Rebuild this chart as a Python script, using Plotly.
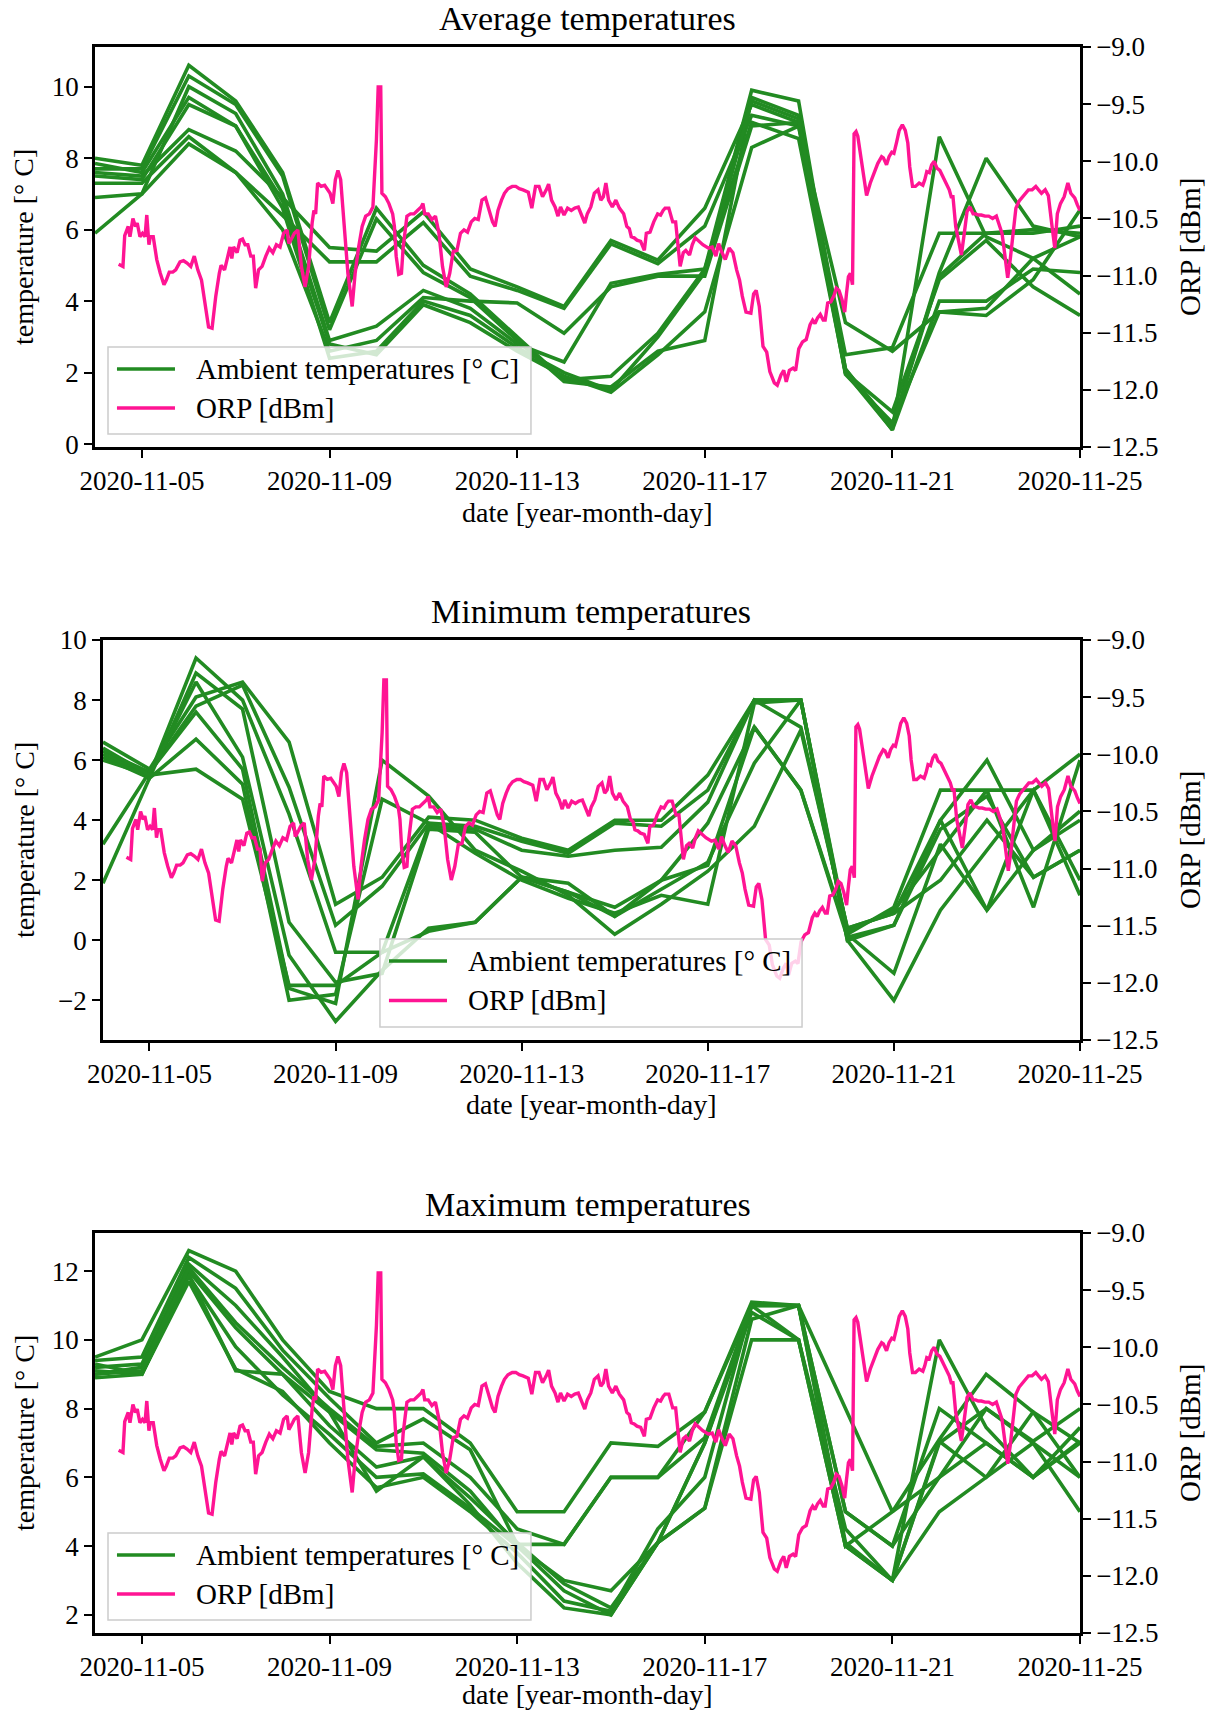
import plotly.graph_objects as go
import pandas as pd

# ---------------- data ----------------
DATES = ["2020-11-04", "2020-11-05", "2020-11-06", "2020-11-07", "2020-11-08", "2020-11-09",
         "2020-11-10", "2020-11-11", "2020-11-12", "2020-11-13", "2020-11-14", "2020-11-15",
         "2020-11-16", "2020-11-17", "2020-11-18", "2020-11-19", "2020-11-20", "2020-11-21",
         "2020-11-22", "2020-11-23", "2020-11-24", "2020-11-25"]

AVG_TEMPS = [
    [8.0, 7.8, 10.6, 9.6, 7.6, 3.4, 6.6, 5.0, 4.2, 3.0, 1.8, 1.9, 3.1, 4.9, 9.9, 9.6, 2.0, 0.4, 8.6, 5.8, 5.2, 4.2],
    [7.7, 7.7, 10.3, 9.5, 7.5, 3.2, 6.3, 4.8, 4.1, 2.9, 1.75, 1.6, 2.6, 2.9, 9.7, 9.2, 2.1, 0.5, 4.8, 8.0, 6.1, 5.8],
    [7.6, 7.5, 8.8, 8.2, 6.9, 5.5, 5.4, 6.5, 4.9, 4.4, 3.85, 5.7, 5.15, 6.6, 9.5, 9.0, 2.5, 2.7, 5.9, 5.9, 5.9, 6.1],
    [7.3, 7.3, 8.6, 7.6, 6.4, 5.1, 5.1, 6.2, 4.7, 4.3, 3.8, 5.6, 5.05, 6.1, 9.2, 8.9, 3.4, 2.6, 3.7, 3.6, 4.6, 6.55],
    [6.9, 7.0, 10.0, 9.25, 7.0, 2.9, 3.3, 4.3, 3.8, 2.8, 2.3, 4.5, 4.75, 4.9, 9.0, 8.55, 2.0, 0.9, 4.6, 5.7, 4.4, 3.6],
    [5.9, 7.0, 8.4, 7.6, 6.0, 2.6, 2.9, 4.1, 4.0, 3.95, 3.1, 4.4, 4.7, 4.7, 8.9, 9.0, 2.1, 0.4, 4.0, 4.0, 4.9, 4.8],
    [7.85, 7.6, 9.7, 8.9, 6.8, 2.8, 2.5, 3.9, 3.4, 2.6, 1.9, 1.45, 2.5, 3.7, 8.3, 8.9, 1.95, 0.6, 3.7, 3.8, 5.2, 5.8],
    [7.5, 7.4, 9.5, 8.9, 6.6, 2.4, 2.6, 4.0, 3.6, 2.7, 2.0, 1.5, 3.0, 4.8, 9.6, 9.1, 2.0, 0.5, 4.7, 5.9, 6.0, 5.9],
]

MIN_TEMPS = [
    [6.6, 5.7, 8.1, 8.6, 6.6, 1.2, 2.1, 4.1, 4.0, 3.4, 3.0, 4.0, 4.0, 5.5, 8.0, 8.0, 0.2, 1.1, 5.0, 5.0, 5.0, 6.2],
    [6.3, 5.6, 7.8, 8.5, 5.1, 0.5, 1.8, 3.9, 3.8, 3.3, 2.9, 3.9, 3.8, 5.0, 8.0, 7.1, 0.4, 0.9, 4.0, 6.0, 3.0, 4.3],
    [6.2, 5.5, 9.4, 8.0, 4.2, -0.4, -0.4, 3.8, 3.7, 3.0, 2.8, 3.0, 3.1, 4.6, 8.0, 8.0, 0.0, 0.5, 3.7, 4.8, 2.1, 3.0],
    [6.1, 5.4, 8.9, 7.7, 0.6, -1.4, -1.1, 3.7, 3.6, 2.1, 1.6, 1.1, 2.0, 3.9, 7.1, 5.0, 0.2, -1.1, 3.2, 1.0, 5.0, 2.0],
    [6.0, 5.5, 8.6, 6.1, -0.5, -2.7, -1.0, 0.4, 0.6, 2.1, 1.9, 0.8, 1.7, 2.6, 5.9, 8.0, 0.0, -2.0, 1.0, 3.0, 5.0, 1.5],
    [3.2, 5.6, 7.6, 5.7, -1.6, -2.1, 6.0, 4.8, 3.0, 2.3, 1.5, 0.2, 1.2, 2.3, 3.8, 7.0, 0.4, 0.9, 2.0, 4.0, 2.1, 3.0],
    [1.9, 5.4, 6.7, 5.2, -2.0, -1.8, 4.7, 3.9, 2.9, 2.0, 1.4, 0.9, 1.5, 1.2, 7.9, 8.0, 0.3, 1.0, 3.0, 5.0, 1.1, 6.0],
    [6.4, 5.5, 5.7, 4.7, -1.5, -1.5, -0.4, 0.3, 0.6, 2.1, 1.6, 0.8, 2.0, 2.5, 7.1, 5.0, 0.1, 0.5, 4.0, 1.0, 3.0, 4.0],
]

MAX_TEMPS = [
    [9.5, 10.0, 12.6, 12.0, 10.0, 8.5, 8.0, 8.0, 7.0, 5.0, 5.0, 7.0, 6.9, 7.9, 11.1, 11.0, 8.0, 5.0, 7.1, 9.0, 7.9, 6.0],
    [9.4, 9.5, 12.4, 11.5, 9.7, 8.3, 7.0, 7.7, 6.8, 4.05, 4.05, 6.0, 6.0, 7.15, 11.0, 11.0, 5.0, 4.0, 6.0, 8.0, 7.05, 8.0],
    [9.2, 9.3, 12.2, 11.0, 9.5, 7.9, 6.8, 6.7, 5.6, 4.0, 3.0, 2.7, 4.1, 7.0, 10.8, 10.0, 4.5, 3.0, 10.0, 7.45, 6.0, 7.45],
    [9.0, 9.2, 12.0, 10.35, 9.0, 7.5, 6.3, 6.6, 5.4, 4.1, 2.9, 2.2, 4.1, 5.1, 10.6, 11.0, 5.0, 4.0, 8.0, 7.0, 6.0, 7.05],
    [8.9, 9.0, 11.85, 9.8, 8.4, 7.25, 6.0, 6.1, 5.1, 4.0, 2.7, 2.0, 4.1, 5.1, 10.0, 10.0, 4.0, 3.0, 7.05, 6.0, 7.0, 5.0],
    [9.1, 9.0, 11.7, 9.15, 8.5, 7.0, 5.7, 6.0, 5.0, 3.8, 2.4, 2.1, 4.5, 6.0, 11.0, 11.0, 4.1, 3.0, 5.0, 6.0, 7.9, 7.0],
    [9.3, 9.0, 11.9, 9.1, 9.0, 7.9, 5.6, 6.6, 5.2, 3.5, 2.2, 2.0, 4.1, 7.0, 11.0, 11.0, 4.0, 5.0, 6.0, 7.0, 6.0, 7.0],
    [9.0, 9.1, 12.1, 10.5, 9.2, 8.0, 6.9, 7.0, 6.0, 4.5, 4.05, 6.0, 6.0, 7.9, 11.0, 10.0, 4.0, 3.0, 7.0, 8.0, 7.0, 6.0],
]

# ORP: hours since 2020-11-04 00:00 and values in dBm
ORP_HOURS = [
    12.1, 14.3, 15.2, 17.0, 17.9, 19.4, 20.7, 21.6, 23.0, 24.3, 25.6, 26.5, 27.6, 28.3, 29.8, 31.6, 33.4, 35.3,
    36.5, 38.0, 39.8, 41.3, 43.5, 45.3, 47.1, 49.0, 50.8, 52.6, 54.5, 56.3, 58.1, 59.9, 61.8, 63.6, 64.5, 66.3,
    67.2, 69.1, 70.0, 70.9, 72.7, 74.2, 75.5, 76.8, 78.2, 79.7, 81.0, 82.2, 83.7, 85.5, 87.4, 89.2, 91.0, 92.8,
    94.7, 96.5, 98.3, 99.2, 101.1, 102.0, 103.8, 105.6, 107.5, 109.3, 111.1, 112.0, 112.9, 113.9, 115.7, 117.5,
    120.3, 121.7, 123.0, 124.3, 125.7, 127.6, 129.4, 131.6, 133.1, 134.9, 136.7, 138.5, 140.4, 142.2, 144.0,
    144.9, 146.2, 146.8, 148.6, 150.4, 152.3, 153.2, 154.1, 155.4, 156.8, 157.7, 159.6, 161.4, 163.2, 165.0,
    166.9, 167.8, 168.7, 170.5, 172.4, 174.2, 176.0, 177.8, 179.7, 181.5, 183.3, 185.2, 187.0, 188.8, 190.6,
    192.5, 194.3, 196.1, 198.0, 199.8, 201.6, 203.4, 204.7, 206.2, 208.0, 209.5, 211.3, 213.5, 215.3, 217.1,
    219.0, 221.7, 223.5, 225.4, 227.2, 229.0, 230.9, 232.1, 233.6, 235.4, 236.9, 238.2, 240.0, 241.8, 243.7,
    245.5, 247.3, 249.1, 250.6, 251.9, 253.7, 255.5, 257.4, 258.8, 260.1, 261.4, 262.8, 264.7, 266.5, 268.3,
    270.5, 272.1, 273.4, 274.4, 275.9, 277.3, 279.2, 281.1, 282.1, 284.0, 285.9, 287.9, 289.4, 290.7, 291.7,
    293.6, 295.6, 297.1, 298.5, 299.4, 301.0, 302.3, 304.2, 305.6, 307.1, 309.0, 311.0, 313.9, 315.8, 317.7,
    319.1, 320.6, 322.5, 324.5, 326.4, 328.3, 329.8, 331.2, 333.1, 335.6, 337.0, 338.3, 339.9, 341.8, 343.7,
    345.3, 347.6, 349.1, 351.0, 352.4, 353.7, 355.3, 357.2, 358.5, 360.1, 362.0, 363.9, 365.9, 367.2, 368.4,
    369.7, 371.1, 372.6, 373.6, 374.9, 376.5, 378.0, 379.3, 380.7, 382.2, 383.6, 384.5, 385.5, 386.5, 387.6,
    388.4, 389.4, 390.3, 391.9, 393.8, 394.8, 396.7, 398.6, 400.5, 402.5, 403.4, 405.0, 406.3, 407.7, 408.8,
    410.2, 411.5, 413.1, 414.6, 415.9, 416.9, 418.3, 419.8, 421.7, 423.6, 424.6, 425.6, 426.9, 428.1, 429.4,
    430.8, 432.3, 433.8, 435.2, 437.1, 438.1, 439.0, 440.4, 441.9, 443.3, 444.8, 446.2, 447.7, 449.3, 450.6,
    452.0, 453.5, 455.4, 457.3, 459.3, 461.2, 462.7, 464.1, 465.4, 467.0, 468.3, 469.9, 471.2, 472.8, 474.3,
    475.6, 477.6, 479.5, 481.4, 482.8, 484.3, 486.2, 487.8, 489.7, 491.1, 492.4, 494.0, 495.9, 497.8, 499.3,
    501.3, 502.6, 504.0,
]
ORP_VALUES = [
    -10.90, -10.92, -10.65, -10.57, -10.66, -10.50, -10.57, -10.54, -10.66, -10.63, -10.66, -10.47, -10.73,
    -10.66, -10.66, -10.86, -10.98, -11.08, -11.04, -10.97, -10.97, -10.95, -10.88, -10.87, -10.89, -10.92,
    -10.83, -10.95, -11.04, -11.27, -11.45, -11.46, -11.18, -10.98, -10.91, -10.95, -10.89, -10.75, -10.85,
    -10.75, -10.80, -10.69, -10.68, -10.73, -10.73, -10.83, -10.83, -11.11, -10.95, -10.92, -10.83, -10.76,
    -10.80, -10.73, -10.75, -10.63, -10.60, -10.72, -10.66, -10.63, -10.60, -10.92, -11.10, -10.92, -10.54,
    -10.43, -10.46, -10.19, -10.22, -10.21, -10.28, -10.37, -10.16, -10.08, -10.16, -10.54, -10.98, -11.27,
    -10.98, -10.75, -10.57, -10.48, -10.46, -10.40, -9.81, -9.35, -9.35, -10.28, -10.31, -10.37, -10.46,
    -10.57, -10.83, -10.99, -10.98, -10.75, -10.48, -10.46, -10.46, -10.43, -10.40, -10.37, -10.46, -10.46,
    -10.51, -10.48, -10.63, -10.92, -11.10, -10.98, -10.79, -10.78, -10.63, -10.60, -10.62, -10.53, -10.50,
    -10.51, -10.34, -10.32, -10.43, -10.53, -10.57, -10.43, -10.34, -10.28, -10.24, -10.22, -10.22, -10.24,
    -10.25, -10.27, -10.41, -10.22, -10.22, -10.31, -10.25, -10.20, -10.34, -10.40, -10.48, -10.40, -10.47,
    -10.41, -10.43, -10.41, -10.40, -10.47, -10.54, -10.46, -10.40, -10.28, -10.25, -10.34, -10.31, -10.19,
    -10.34, -10.40, -10.34, -10.41, -10.46, -10.57, -10.59, -10.66, -10.67, -10.69, -10.70, -10.78, -10.63,
    -10.62, -10.53, -10.46, -10.47, -10.43, -10.41, -10.41, -10.53, -10.53, -10.75, -10.92, -10.80, -10.78,
    -10.82, -10.73, -10.67, -10.70, -10.73, -10.76, -10.75, -10.83, -10.72, -10.79, -10.86, -10.76, -10.80,
    -10.95, -11.04, -11.18, -11.32, -11.33, -11.16, -11.13, -11.27, -11.62, -11.67, -11.84, -11.94, -11.96,
    -11.87, -11.83, -11.93, -11.83, -11.81, -11.83, -11.64, -11.58, -11.56, -11.43, -11.39, -11.42, -11.37,
    -11.34, -11.39, -11.39, -11.24, -11.23, -11.18, -11.11, -11.13, -11.21, -11.32, -11.16, -11.01, -10.98,
    -11.08, -9.76, -9.74, -9.78, -9.96, -10.22, -10.30, -10.19, -10.11, -10.02, -9.96, -9.97, -10.03, -9.96,
    -9.92, -9.93, -9.83, -9.73, -9.68, -9.73, -9.84, -10.05, -10.22, -10.22, -10.19, -10.21, -10.16, -10.09,
    -10.10, -10.03, -10.00, -10.06, -10.08, -10.13, -10.19, -10.25, -10.31, -10.31, -10.57, -10.69, -10.82,
    -10.63, -10.44, -10.40, -10.46, -10.46, -10.47, -10.47, -10.48, -10.48, -10.50, -10.48, -10.57, -10.63,
    -10.80, -11.02, -10.86, -10.57, -10.41, -10.35, -10.32, -10.30, -10.25, -10.25, -10.22, -10.25, -10.28,
    -10.25, -10.30, -10.57, -10.76, -10.46, -10.37, -10.31, -10.19, -10.28, -10.32, -10.38, -10.43,
]

TITLES = ["Average temperatures", "Minimum temperatures", "Maximum temperatures"]
TEMP_TICKS = [[0, 2, 4, 6, 8, 10], [-2, 0, 2, 4, 6, 8, 10], [2, 4, 6, 8, 10, 12]]
ORP_TICKS = [-12.5, -12.0, -11.5, -11.0, -10.5, -10.0, -9.5, -9.0]
DATE_TICKS = ["2020-11-05", "2020-11-09", "2020-11-13", "2020-11-17", "2020-11-21", "2020-11-25"]
LEGEND_LABELS = ["Ambient temperatures [° C]", "ORP [dBm]"]

# ---------------- style / layout ----------------
GREEN = "#228B22"
PINK = "#FF1493"
FONT = "Liberation Serif"
W, H = 1211, 1710
ML, MR, MT, MB = 95, 131, 47, 77

orp_x = pd.Timestamp("2020-11-04") + pd.to_timedelta(ORP_HOURS, unit="h")

panels = [
    dict(temps=AVG_TEMPS, ydom=[0.7478, 1.0], xdom=[0.0, 1.0], yrange=[-0.08, 11.11], xl_shift=-66,
         leg=dict(box=[0.0132, 0.4426, 0.0325, 0.25], l0=0.0223, l1=0.0812, tx=0.1005, r1=0.195, r2=0.0975)),
    dict(temps=MIN_TEMPS, ydom=[0.3739, 0.6261], xdom=[0.0081, 1.0], yrange=[-3.32, 10.0], xl_shift=-65,
         leg=dict(box=[0.2835, 0.7155, 0.0325, 0.2525], l0=0.2927, l1=0.3521, tx=0.3715, r1=0.1975, r2=0.0988)),
    dict(temps=MAX_TEMPS, ydom=[0.0, 0.2522], xdom=[0.0, 1.0], yrange=[1.47, 13.11], xl_shift=-61,
         leg=dict(box=[0.0132, 0.4426, 0.0325, 0.25], l0=0.0223, l1=0.0812, tx=0.1005, r1=0.195, r2=0.0975)),
]

fig = go.Figure()
layout = dict(
    width=W, height=H, margin=dict(l=ML, r=MR, t=MT, b=MB),
    paper_bgcolor="white", plot_bgcolor="white",
    font=dict(family=FONT, size=26, color="black"),
    showlegend=False, annotations=[], shapes=[],
)

axis_common = dict(showgrid=False, zeroline=False, showline=True, linecolor="black", linewidth=2.5,
                   ticks="outside", ticklen=8, tickwidth=2, tickcolor="black",
                   tickfont=dict(family=FONT, size=27, color="black"))

for k, p in enumerate(panels):
    xname = "x" if k == 0 else f"x{k + 1}"
    yl = "y" if k == 0 else f"y{2 * k + 1}"
    yr = f"y{2 * k + 2}"
    xkey = "xaxis" if k == 0 else f"xaxis{k + 1}"
    ylkey = "yaxis" if k == 0 else f"yaxis{2 * k + 1}"
    yrkey = f"yaxis{2 * k + 2}"

    for series in p["temps"]:
        fig.add_trace(go.Scatter(x=DATES, y=series, mode="lines", xaxis=xname, yaxis=yl,
                                 line=dict(color=GREEN, width=3.6), hoverinfo="skip"))
    fig.add_trace(go.Scatter(x=orp_x, y=ORP_VALUES, mode="lines", xaxis=xname, yaxis=yr,
                             line=dict(color=PINK, width=3.4), hoverinfo="skip"))

    layout[xkey] = dict(axis_common, domain=p["xdom"], anchor=yl, type="date",
                        range=["2020-11-04", "2020-11-25"], tickvals=DATE_TICKS,
                        tickformat="%Y-%m-%d", mirror=True)
    layout[ylkey] = dict(axis_common, domain=p["ydom"], anchor=xname, range=p["yrange"],
                         tickvals=TEMP_TICKS[k], mirror=False)
    layout[yrkey] = dict(axis_common, overlaying=yl, side="right", anchor=xname,
                         range=[-12.5, -9.0], tickvals=ORP_TICKS, tickformat=".1f")

    xd, yd = f"{xname} domain", f"{yl} domain"
    ann = layout["annotations"]
    ann.append(dict(text=TITLES[k], xref=xd, yref=yd, x=0.5, y=1.0, yshift=8, xanchor="center",
                    yanchor="bottom", showarrow=False, font=dict(family=FONT, size=34)))
    ann.append(dict(text="date [year-month-day]", xref=xd, yref=yd, x=0.5, y=0.0, yshift=p["xl_shift"],
                    xanchor="center", yanchor="middle", showarrow=False, font=dict(family=FONT, size=28)))
    axis_px = (p["xdom"][1] - p["xdom"][0]) * (W - ML - MR)
    left_x = (ML + p["xdom"][0] * (W - ML - MR))
    ann.append(dict(text="temperature [° C]", xref=xd, yref=yd, x=(24 - left_x) / axis_px, y=0.5,
                    xanchor="center", yanchor="middle", textangle=-90, showarrow=False,
                    font=dict(family=FONT, size=28)))
    ann.append(dict(text="ORP [dBm]", xref=xd, yref=yd, x=(1190 - left_x) / axis_px, y=0.5,
                    xanchor="center", yanchor="middle", textangle=-90, showarrow=False,
                    font=dict(family=FONT, size=29)))

    lg = p["leg"]
    layout["shapes"].append(dict(type="rect", xref=xd, yref=yd, x0=lg["box"][0], x1=lg["box"][1],
                                 y0=lg["box"][2], y1=lg["box"][3], fillcolor="rgba(255,255,255,0.8)",
                                 line=dict(color="#cccccc", width=1.5), layer="above"))
    for row, col, lab in [(lg["r1"], GREEN, LEGEND_LABELS[0]), (lg["r2"], PINK, LEGEND_LABELS[1])]:
        layout["shapes"].append(dict(type="line", xref=xd, yref=yd, x0=lg["l0"], x1=lg["l1"], y0=row, y1=row,
                                     line=dict(color=col, width=3.6), layer="above"))
        ann.append(dict(text=lab, xref=xd, yref=yd, x=lg["tx"], y=row, xanchor="left", yanchor="middle",
                        showarrow=False, font=dict(family=FONT, size=29)))

fig.update_layout(**layout)
fig.write_html("out.html")
